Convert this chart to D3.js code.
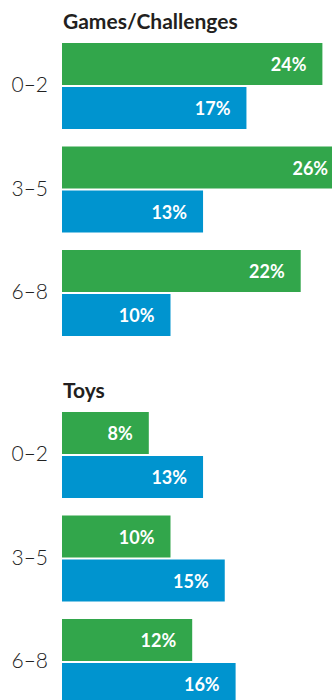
<!DOCTYPE html>
<html><head><meta charset="utf-8">
<script src="https://cdn.jsdelivr.net/npm/d3@7"></script>
<style>html,body{margin:0;padding:0;background:#fff;overflow:hidden}</style>
</head><body>
<svg id="c" width="332" height="700"></svg>
<script>
const sections = ["Games/Challenges", "Toys"];
const ages = ["0–2", "3–5", "6–8"];
const series = ["A", "B"];
const valuesA = { "Games/Challenges": [24, 26, 22], "Toys": [8, 10, 12] };
const valuesB = { "Games/Challenges": [17, 13, 10], "Toys": [13, 15, 16] };

const colors = { A: "#32a64b", B: "#0094cf" };
const svg = d3.select("#c");
const x = d3.scaleLinear().domain([0, 30]).range([62, 387.5]);
const ySec = d3.scaleOrdinal().domain(sections).range([43, 412]);
const yAge = d3.scaleBand().domain(ages).range([0, 310.5]).padding(0);
const ySer = d3.scaleBand().domain(series).range([0, 86]).paddingInner(2/44).paddingOuter(0);
const font = "Lato, 'Open Sans', sans-serif";

sections.forEach(sec => {
  const g = svg.append("g").attr("transform", `translate(0,${ySec(sec)})`);
  g.append("text").attr("x", 63).attr("y", -14)
    .attr("font-family", font).attr("font-weight", 700).attr("font-size", 21)
    .attr("fill", "#231f20").text(sec);
  const rows = ages.map((a, i) => ({ age: a, A: valuesA[sec][i], B: valuesB[sec][i] }));
  const rg = g.selectAll("g.row").data(rows).join("g")
    .attr("transform", d => `translate(0,${yAge(d.age)})`);
  rg.append("text").attr("x", 48).attr("y", 86/2 - 1).attr("dy", "0.35em")
    .attr("text-anchor", "end").attr("font-family", font).attr("font-weight", 300)
    .attr("font-size", 21).attr("fill", "#222").text(d => d.age);
  series.forEach(s => {
    rg.append("rect").attr("x", x(0)).attr("y", ySer(s))
      .attr("width", d => x(d[s]) - x(0)).attr("height", ySer.bandwidth())
      .attr("fill", colors[s]);
    rg.append("text").attr("x", d => x(d[s]) - 16)
      .attr("y", ySer(s) + ySer.bandwidth()/2 + 1).attr("dy", "0.35em")
      .attr("text-anchor", "end").attr("font-family", font).attr("font-weight", 700)
      .attr("font-size", 18).attr("fill", "#fff").text(d => d[s] + "%");
  });
});
</script>
</body></html>
